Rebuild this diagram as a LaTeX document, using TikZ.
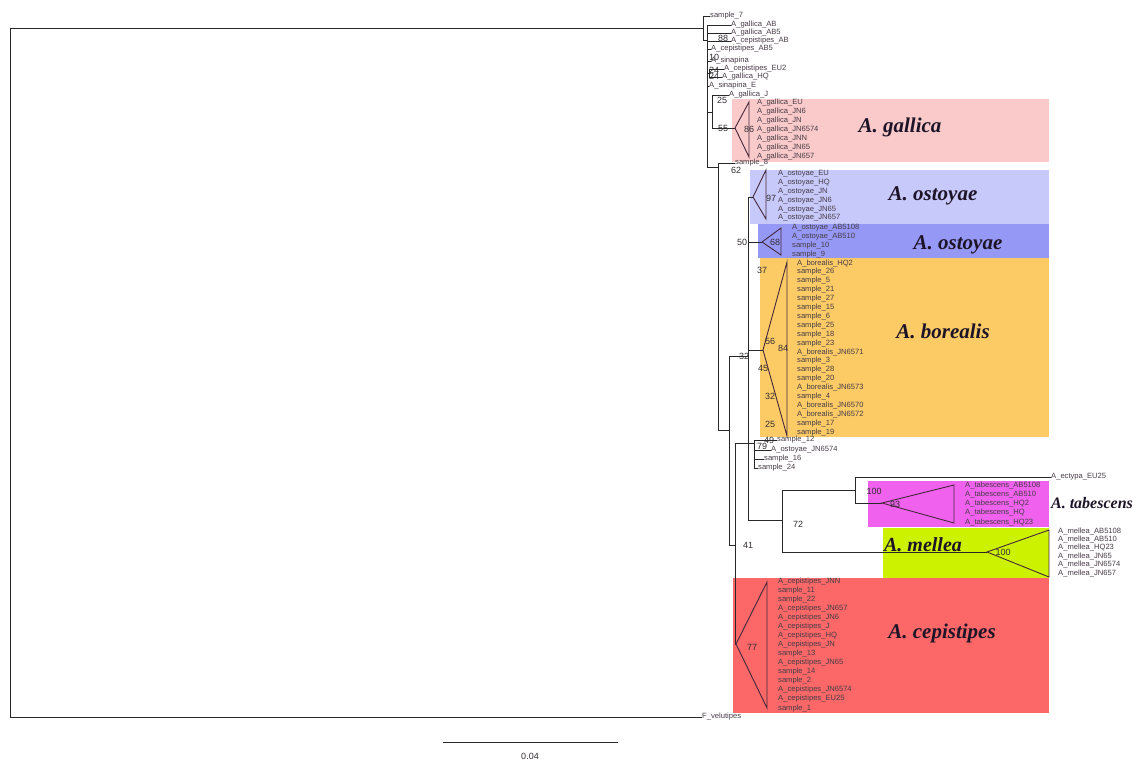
\documentclass[tikz,border=0pt]{standalone}
\usepackage{fontspec}
\setmainfont{Liberation Sans}
\newfontfamily\cladefont{Liberation Serif}
\usepackage{tikz}

\definecolor{gallicapink}{RGB}{250,202,202}
\definecolor{ostoyaelight}{RGB}{199,201,250}
\definecolor{ostoyaedark}{RGB}{150,152,245}
\definecolor{borealisorange}{RGB}{252,203,102}
\definecolor{tabescensmag}{RGB}{240,98,238}
\definecolor{mellealime}{RGB}{205,242,0}
\definecolor{cepistipesred}{RGB}{252,104,104}
\definecolor{treeline}{RGB}{40,40,40}
\definecolor{cladeline}{RGB}{70,40,60}
\definecolor{tipgray}{RGB}{70,60,70}
\definecolor{bootgray}{RGB}{50,45,50}
\definecolor{cladetext}{RGB}{30,20,40}

\begin{document}
\begin{tikzpicture}[
  x=1pt, y=-1pt,
  branch/.style={draw=treeline, line width=0.8pt},
  clade/.style={draw=cladeline, line width=0.9pt, line join=miter},
  tip/.style={anchor=west, inner sep=0pt, text=tipgray, font=\fontsize{7.6}{8}\selectfont},
  boot/.style={inner sep=0pt, text=bootgray, font=\fontsize{9}{10}\selectfont},
  cname/.style={inner sep=0pt, text=cladetext, font=\cladefont\bfseries\itshape\fontsize{21}{24}\selectfont}
]
% picture frame = reference pixels (y grows downward)
\useasboundingbox (0,0) rectangle (1133,760);

% coloured clade panels
\fill[gallicapink]    (732,99)  rectangle (1049,162);
\fill[ostoyaelight]   (750,170) rectangle (1049,224);
\fill[ostoyaedark]    (758,224) rectangle (1049,258);
\fill[borealisorange] (760,258) rectangle (1049,437);
\fill[tabescensmag]   (868,481) rectangle (1049,527);
\fill[mellealime]     (883,528) rectangle (1049,578);
\fill[cepistipesred]  (733,578) rectangle (1049,713);

% internal nodes
\coordinate (root) at (10,28);
\coordinate (n0)   at (703,28);
\coordinate (n1)   at (707,40);
\coordinate (n24)  at (709,73);
\coordinate (n25)  at (712,112);
\coordinate (n62)  at (718,167);
\coordinate (nA)   at (729,430);
\coordinate (n32)  at (748,356);
\coordinate (n72)  at (782,520);
\coordinate (n100) at (855,490);
\coordinate (n41)  at (735,545);
\coordinate (n79)  at (754,443);

% collapsed clade apexes
\coordinate (galApex) at (735,128);
\coordinate (ostLApex) at (753,197);
\coordinate (ostDApex) at (762,242);
\coordinate (borApex) at (763,350);
\coordinate (tabApex) at (882,503);
\coordinate (melApex) at (987,552);
\coordinate (cepApex) at (736,644);

% single tips
\node[tip] (fvel)  at (702,717) {F\_velutipes};
\node[tip] (s7)    at (710,16)  {sample\_7};
\node[tip] (gAB)   at (731,25)  {A\_gallica\_AB};
\node[tip] (gAB5)  at (731,33)  {A\_gallica\_AB5};
\node[tip] (cAB)   at (731,41)  {A\_cepistipes\_AB};
\node[tip] (cAB5)  at (711,49)  {A\_cepistipes\_AB5};
\node[tip] (sin)   at (711,61)  {A\_sinapina};
\node[tip] (cEU2)  at (724,69)  {A\_cepistipes\_EU2};
\node[tip] (gHQ)   at (722,77)  {A\_gallica\_HQ};
\node[tip] (sinE)  at (709,86)  {A\_sinapina\_E};
\node[tip] (gJ)    at (729,95)  {A\_gallica\_J};
\node[tip] (s8)    at (735,163) {sample\_8};
\node[tip] (s12)   at (777,440) {sample\_12};
\node[tip] (oJN)   at (771,450) {A\_ostoyae\_JN6574};
\node[tip] (s16)   at (764,459) {sample\_16};
\node[tip] (s24)   at (758,468) {sample\_24};
\node[tip] (ect)   at (1051,477) {A\_ectypa\_EU25};

% branches
\draw[branch] (root) |- (n0);
\draw[branch] (root) |- (fvel.west);
\draw[branch] (n0) |- (s7.west);
\draw[branch] (n0) |- (n1);
\foreach \c in {gAB,gAB5,cAB,cAB5,sin,sinE}
  \draw[branch] (n1) |- (\c.west);
\draw[branch] (n1) |- (n24);
\draw[branch] (n1) |- (n25);
\draw[branch] (n1) |- (n62);
\draw[branch] (n24) |- (cEU2.west);
\draw[branch] (n24) |- (gHQ.west);
\draw[branch] (n25) |- (gJ.west);
\draw[branch] (n25) |- (galApex);
\draw[branch] (n62) |- (s8.west);
\draw[branch] (n62) |- (nA);
\draw[branch] (nA) |- (n32);
\draw[branch] (nA) |- (n41);
\draw[branch] (n32) |- (ostLApex);
\draw[branch] (n32) |- (ostDApex);
\draw[branch] (n32) |- (borApex);
\draw[branch] (n32) |- (n72);
\draw[branch] (n72) |- (n100);
\draw[branch] (n72) |- (melApex);
\draw[branch] (n100) |- (ect.west);
\draw[branch] (n100) |- (tabApex);
\draw[branch] (n41) |- (n79);
\draw[branch] (n41) |- (cepApex);
\foreach \c in {s12,oJN,s16,s24}
  \draw[branch] (n79) |- (\c.west);

% collapsed clades
\draw[clade] (galApex) -- (749,102) -- (749,157) -- cycle;
\draw[clade] (ostLApex) -- (766,170) -- (766,219) -- cycle;
\draw[clade] (ostDApex) -- (781,228) -- (781,255) -- cycle;
\draw[clade] (borApex) -- (787,262) -- (787,436) -- cycle;
\draw[clade] (tabApex) -- (954,485) -- (954,523) -- cycle;
\draw[clade] (melApex) -- (1049,530) -- (1049,577) -- cycle;
\draw[clade] (cepApex) -- (767,582) -- (767,708) -- cycle;

% tip lists inside the collapsed clades
\foreach \t [count=\i] in {EU,JN6,JN,JN6574,JNN,JN65,JN657}
  \node[tip] (gal-\i) at (757,{94+9*\i}) {A\_gallica\_\t};
\foreach \t [count=\i] in {EU,HQ,JN,JN6,JN65,JN657}
  \node[tip] (ostL-\i) at (778,{165.2+8.8*\i}) {A\_ostoyae\_\t};
\foreach \t [count=\i] in {A\_ostoyae\_AB5108,A\_ostoyae\_AB510,sample\_10,sample\_9}
  \node[tip] (ostD-\i) at (792,{219.3+8.7*\i}) {\t};
\foreach \t [count=\i] in {A\_borealis\_HQ2,sample\_26,sample\_5,sample\_21,sample\_27,
    sample\_15,sample\_6,sample\_25,sample\_18,sample\_23,A\_borealis\_JN6571,sample\_3,
    sample\_28,sample\_20,A\_borealis\_JN6573,sample\_4,A\_borealis\_JN6570,
    A\_borealis\_JN6572,sample\_17,sample\_19}
  \node[tip] (bor-\i) at (797,{254.1+8.9*\i}) {\t};
\foreach \t [count=\i] in {AB5108,AB510,HQ2,HQ,HQ23}
  \node[tip] (tab-\i) at (965,{475.7+9.3*\i}) {A\_tabescens\_\t};
\foreach \t [count=\i] in {AB5108,AB510,HQ23,JN65,JN6574,JN657}
  \node[tip] (mel-\i) at (1058,{522.6+8.4*\i}) {A\_mellea\_\t};
\foreach \t [count=\i] in {A\_cepistipes\_JNN,sample\_11,sample\_22,A\_cepistipes\_JN657,
    A\_cepistipes\_JN6,A\_cepistipes\_J,A\_cepistipes\_HQ,A\_cepistipes\_JN,sample\_13,
    A\_cepistipes\_JN65,sample\_14,sample\_2,A\_cepistipes\_JN6574,A\_cepistipes\_EU25,sample\_1}
  \node[tip] (cep-\i) at (778,{572+9.07*\i}) {\t};

% bootstrap values
\node[boot] (b88)  at (723,38)  {88};
\node[boot] (b10)  at (714,57)  {10};
\node[boot] (b24a) at (714,70)  {24};
\node[boot] (b24b) at (714,76)  {24};
\node[boot] (b25)  at (722,100) {25};
\node[boot] (b55)  at (723,128) {55};
\node[boot] (b86)  at (749,129) {86};
\node[boot] (b62)  at (736,170) {62};
\node[boot] (b97)  at (771,198) {97};
\node[boot] (b50)  at (742,242) {50};
\node[boot] (b68)  at (775,242) {68};
\node[boot] (b37)  at (762,270) {37};
\node[boot] (b56)  at (770,341) {56};
\node[boot] (b84)  at (783,348) {84};
\node[boot] (b32a) at (744,356) {32};
\node[boot] (b45)  at (763,368) {45};
\node[boot] (b32b) at (770,396) {32};
\node[boot] (b25b) at (770,424) {25};
\node[boot] (b49)  at (769,440) {49};
\node[boot] (b79)  at (762,446) {79};
\node[boot] (b100a) at (874,491) {100};
\node[boot] (b93)  at (895,504) {93};
\node[boot] (b72)  at (798,524) {72};
\node[boot] (b41)  at (748,545) {41};
\node[boot] (b100b) at (1003,552) {100};
\node[boot] (b77)  at (752,647) {77};

% clade names
\node[cname] (gallica)   at (900,127) {A. gallica};
\node[cname] (ostoyaeA)  at (933,196) {A. ostoyae};
\node[cname] (ostoyaeB)  at (958,245) {A. ostoyae};
\node[cname] (borealis)  at (943,331) {A. borealis};
\node[cname, font=\cladefont\bfseries\itshape\fontsize{16}{18}\selectfont] (tabescens) at (1092,503) {A. tabescens};
\node[cname, font=\cladefont\bfseries\itshape\fontsize{20}{22}\selectfont] (mellea) at (923,545) {A. mellea};
\node[cname] (cepistipes) at (942,633) {A. cepistipes};

% scale bar
\coordinate (barL) at (443,742);
\coordinate (barR) at (618,742);
\draw[branch] (barL) -- (barR);
\node[boot] (barlbl) at (530,756) {0.04};

\end{tikzpicture}
\end{document}
